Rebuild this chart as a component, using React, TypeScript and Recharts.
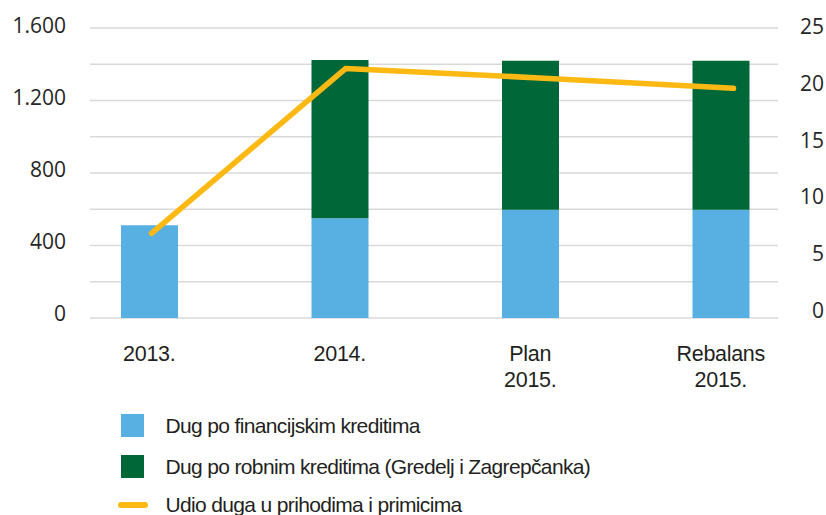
import React from 'react';
import { ComposedChart, Bar, Line, XAxis, YAxis, CartesianGrid, Legend } from 'recharts';

// ---- data ----
const categories = ['2013.', '2014.', 'Plan\n2015.', 'Rebalans\n2015.'];
const financijski = [512, 551, 597, 597];
const robni = [0, 873, 822, 822];
const udio = [7.3, 21.5, 20.7, 19.8];
const leftTicks = [0, 200, 400, 600, 800, 1000, 1200, 1400, 1600];
const rightTicks = [0, 5, 10, 15, 20, 25];
const seriesNames = [
  'Dug po financijskim kreditima',
  'Dug po robnim kreditima (Gredelj i Zagrepčanka)',
  'Udio duga u prihodima i primicima',
];

const data = categories.map((name, i) => ({
  name,
  fin: financijski[i],
  rob: robni[i],
  udio: udio[i],
}));

const BLUE = '#58AFE2';
const GREEN = '#006838';
const ORANGE = '#FDB913';
const COND = "'Liberation Sans', Arial, sans-serif";
const NUM = "'Open Sans', 'Noto Sans', sans-serif";

const fmtThousands = (v: number) => String(v).replace(/\B(?=(\d{3})+(?!\d))/g, '.');

const LeftTick = (props: any) => {
  const v = props.payload.value;
  if (v % 400 !== 0) return null;
  return (
    <text x={66} y={props.y - 2 - (1600 - v) * 0.0018} dy="0.355em" textAnchor="end" fontFamily={NUM} fontSize={21} fill="#262626">
      {fmtThousands(v)}
    </text>
  );
};

const RightTick = (props: any) => {
  const v = props.payload.value;
  return (
    <text x={824} y={props.y - 1.5 - (25 - v) * 0.24} dy="0.355em" textAnchor="end" fontFamily={NUM} fontSize={21} fill="#262626">
      {v}
    </text>
  );
};

const XTick = (props: any) => {
  const lines = String(props.payload.value).split('\n');
  return (
    <text x={props.x} y={props.y + 34.5} textAnchor="middle" fontFamily={COND} fontSize={21.5} letterSpacing={-0.3} fill="#231F20">
      {lines.map((l, i) => (
        <tspan key={i} x={props.x} dy={i === 0 ? 0 : 26}>{l}</tspan>
      ))}
    </text>
  );
};

const rowTops = [9, 50, 88];

const LegendContent = (props: any) => {
  const payload = props.payload || [];
  return (
    <div style={{ position: 'relative', width: 826, height: 110 }}>
      {payload.map((p: any, i: number) => {
        const isLine = p.type === 'line';
        return (
          <div key={i} style={{ position: 'absolute', left: 0, top: rowTops[i], height: 23, width: 826 }}>
            {isLine ? (
              <div style={{ position: 'absolute', left: 118, top: 8.5, width: 30, height: 6, borderRadius: 3, background: p.color }} />
            ) : (
              <div style={{ position: 'absolute', left: 121, top: 0, width: 23, height: 23, background: p.color }} />
            )}
            <div style={{ position: 'absolute', left: 165.5, top: -3, fontFamily: COND, fontSize: 21, letterSpacing: -0.65, color: '#231F20', whiteSpace: 'nowrap', lineHeight: '29px' }}>
              {p.value}
            </div>
          </div>
        );
      })}
    </div>
  );
};

export default function App() {
  return (
    <div style={{ position: 'absolute', left: 0, top: 0 }}>
      <ComposedChart width={826} height={515} data={data} margin={{ top: 28, right: 0, bottom: 0, left: 0 }}>
        <CartesianGrid yAxisId="left" xAxisId="bar" vertical={false} stroke="#D9D9D9" strokeWidth={1.6} x={90} width={688} />
        <XAxis xAxisId="bar" dataKey="name" axisLine={false} tickLine={false} height={87} interval={0} tick={<XTick />} />
        <XAxis xAxisId="line" dataKey="name" hide scale="point" padding={{ left: 97.5, right: 82.5 }} />
        <YAxis yAxisId="left" orientation="left" width={54} domain={[0, 1600]} ticks={leftTicks} interval={0} axisLine={false} tickLine={false} tick={<LeftTick />} />
        <YAxis yAxisId="right" orientation="right" width={10} domain={[0, 25]} ticks={rightTicks} interval={0} axisLine={false} tickLine={false} tick={<RightTick />} />
        <Legend verticalAlign="bottom" align="left" wrapperStyle={{ left: 0, width: 826, height: 110 }} content={<LegendContent />} />
        <Bar xAxisId="bar" yAxisId="left" dataKey="fin" name={seriesNames[0]} stackId="a" fill={BLUE} barSize={57} isAnimationActive={false} legendType="square" />
        <Bar xAxisId="bar" yAxisId="left" dataKey="rob" name={seriesNames[1]} stackId="a" fill={GREEN} barSize={57} isAnimationActive={false} legendType="square" />
        <Line xAxisId="line" yAxisId="right" dataKey="udio" name={seriesNames[2]} type="linear" stroke={ORANGE} strokeWidth={5.5} strokeLinecap="round" strokeLinejoin="round" dot={false} activeDot={false} isAnimationActive={false} legendType="line" />
      </ComposedChart>
    </div>
  );
}
